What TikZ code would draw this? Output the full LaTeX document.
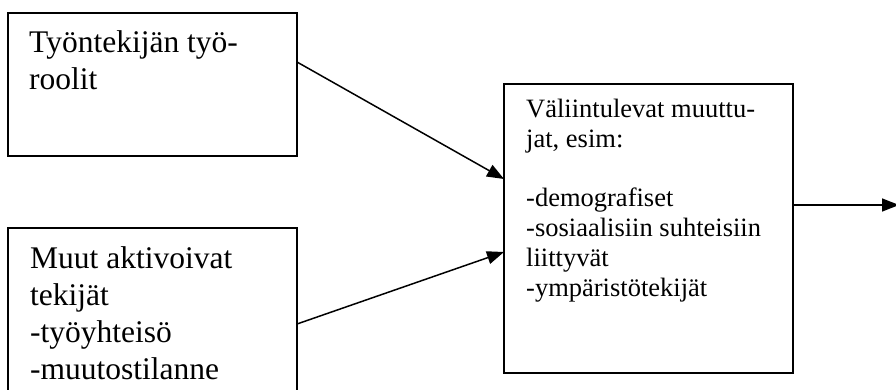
\documentclass[tikz,border=0pt]{standalone}
\usepackage{fontspec}
\setmainfont{Liberation Serif}
\usetikzlibrary{arrows.meta,positioning}
\begin{document}
\begin{tikzpicture}[x=1pt,y=-1pt,
  frame/.style={draw=black,line width=1.8pt},
  bigtext/.style={anchor=base west,inner sep=0pt,align=left,
    font=\fontsize{31.5}{37}\selectfont},
  smalltext/.style={anchor=base west,inner sep=0pt,align=left,
    font=\fontsize{26.5}{29.7}\selectfont},
  link/.style={line width=1.5pt,-{Triangle[length=17pt,width=13pt]}}]
\clip (0,0) rectangle (896,390);
% boxes
\draw[frame] (8,13) rectangle (297,156);
\coordinate (b1ne) at (297,13);
\draw[frame] (8,410) -- (8,228) -- (297,228) -- (297,410);
\coordinate (b2ne) at (297,228);
\draw[frame] (504,84) rectangle (793,373);
\coordinate (b3nw) at (504,84);
\coordinate (b3ne) at (793,84);
% texts (each node is anchored at the baseline of its last line)
\node[bigtext] (t1) at (29,90) {Työntekijän työ-\\roolit};
\node[bigtext] (t2) at (30,379) {Muut aktivoivat\\tekijät\\-työyhteisö\\-muutostilanne};
\node[smalltext] (t3) at (526,296) {Väliintulevat muuttu-\\jat, esim:\\[29.7pt]-demografiset\\-sosiaalisiin suhteisiin\\liittyvät\\-ympäristötekijät};
% connectors
\coordinate (out) at (899,205);
\draw[link] ([yshift=-49pt]b1ne) -- ([yshift=-95pt]b3nw);
\draw[link] ([yshift=-96pt]b2ne) -- ([yshift=-168pt]b3nw);
\draw[link] ([yshift=-121pt]b3ne) -- (out);
\end{tikzpicture}
\end{document}
